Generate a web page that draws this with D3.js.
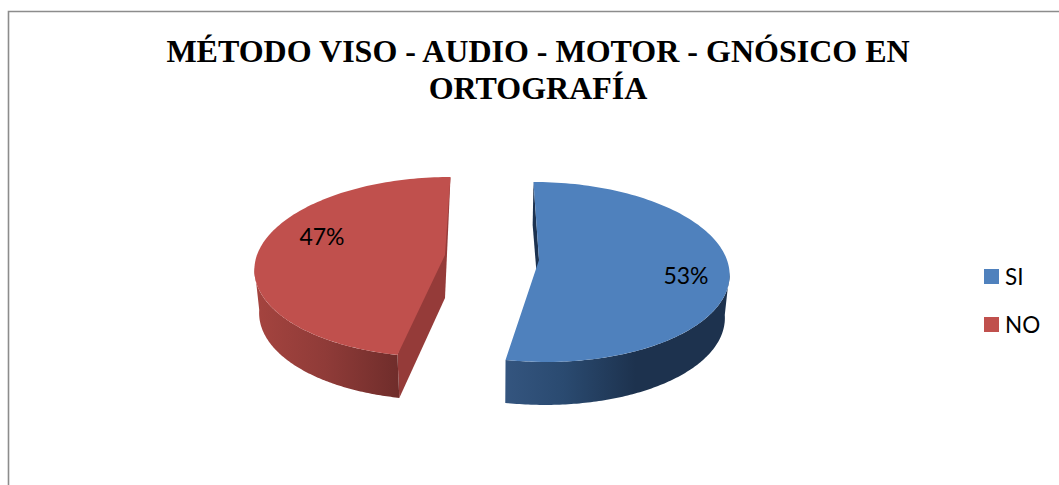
<!DOCTYPE html>
<html><head><meta charset="utf-8">
<script src="https://cdn.jsdelivr.net/npm/d3@7"></script>
<style>html,body{margin:0;padding:0;background:#fff;overflow:hidden}svg{display:block}</style>
</head><body><svg id="c" width="1059" height="485"></svg>
<script>
const categories = ["SI", "NO"];
const seriesValues = [53, 47];
const dataLabels = ["53%", "47%"];
const titleLines = ["MÉTODO VISO - AUDIO - MOTOR - GNÓSICO EN", "ORTOGRAFÍA"];
const colors = ["#4f81bd", "#c0504d"];
const wallStops = [[[0, "#34557f"], [0.45, "#2a4a70"], [1, "#1d324e"]], [[0, "#a5443f"], [0.5, "#8f3b38"], [1, "#702d2b"]]];
const faceColors = ["#1c3250", "#953b39"];

const svg = d3.select("#c");
// frame
svg.append("path").attr("d", "M8.5,485V11.5H1059").attr("fill", "none").attr("stroke", "#8c8c8c").attr("stroke-width", 1.6);

// title
svg.append("text").attr("text-anchor", "middle").attr("font-family", "Liberation Serif").attr("font-weight", "bold")
  .attr("font-size", 32).attr("fill", "#000")
  .selectAll("tspan").data(titleLines).join("tspan").attr("x", 538).attr("y", (d, i) => 62 + i * 37).text(d => d);

// 3D projection of the pie
const vx = 492, R = 188, H = 88.4, k = 0.133, depth = 43, shrink = 0.98;
const apex = [[539, 260], [445, 255]];
const proj = (i, a, down) => {
  const c = Math.cos(a), s = Math.sin(a), w = 1 + k * c;
  const x = vx + (apex[i][0] - vx + R * s) / w;
  const y = apex[i][1] - H * c / w;
  return down ? [vx + (x - vx) * shrink, y + depth] : [x, y];
};
const apexDown = i => [apex[i][0], apex[i][1] + depth];
const line = d3.line();
const slices = d3.pie().sort(null).value(d => d)(seriesValues);
const defs = svg.append("defs");
const arcPts = (i, a0, a1, down) => d3.range(0, 121).map(t => proj(i, a0 + (a1 - a0) * t / 120, down));

// walls start at the silhouette of the disc
const sil = Math.PI / 2 + Math.asin(k);
const walls = [[sil, slices[0].endAngle], [slices[1].startAngle, 2 * Math.PI - sil]];
slices.forEach((sl, i) => {
  const g = svg.append("g");
  const [w0, w1] = walls[i];
  const topArc = arcPts(i, w0, w1, false), botArc = arcPts(i, w0, w1, true).reverse();
  const grad = defs.append("linearGradient").attr("id", "w" + i).attr("gradientUnits", "userSpaceOnUse")
    .attr("x1", i ? d3.min(topArc, p => p[0]) : proj(0, sl.endAngle)[0])
    .attr("x2", i ? proj(1, sl.startAngle)[0] : proj(0, sl.endAngle)[0] + 130)
    .attr("y1", 0).attr("y2", 0);
  wallStops[i].forEach(([o, c]) => grad.append("stop").attr("offset", o).attr("stop-color", c));
  const far = i ? sl.endAngle : sl.startAngle, near = sl.startAngle;
  if (i === 0) {
    g.append("path").attr("fill", faceColors[0]).attr("d", line([proj(0, far), proj(0, far, true), apexDown(0), apex[0]]) + "Z");
  } else {
    g.append("path").attr("fill", faceColors[1]).attr("d", line([proj(1, far), apexDown(1), proj(1, near, true), proj(1, near)]) + "Z");
  }
  g.append("path").attr("fill", `url(#w${i})`).attr("d", line(topArc.concat(botArc)) + "Z");
  g.append("path").attr("fill", colors[i])
    .attr("d", line([apex[i]].concat(arcPts(i, sl.startAngle, sl.endAngle, false))) + "Z");
});

// data labels
const labelPos = [[686, 284], [322, 245]];
svg.append("g").selectAll("text").data(dataLabels).join("text")
  .attr("x", (d, i) => labelPos[i][0]).attr("y", (d, i) => labelPos[i][1])
  .attr("text-anchor", "middle").attr("font-family", "Lato").attr("font-size", 23).attr("fill", "#000").text(d => d);

// legend
const ly = d3.scalePoint().domain(categories).range([269, 317]);
const lg = svg.append("g").selectAll("g").data(categories).join("g").attr("transform", d => `translate(984,${ly(d)})`);
lg.append("rect").attr("width", 15).attr("height", 15).attr("fill", (d, i) => colors[i]);
lg.append("text").attr("x", 21).attr("y", 16).attr("font-family", "Lato").attr("font-size", 22.5).attr("fill", "#000").text(d => d);
</script></body></html>
